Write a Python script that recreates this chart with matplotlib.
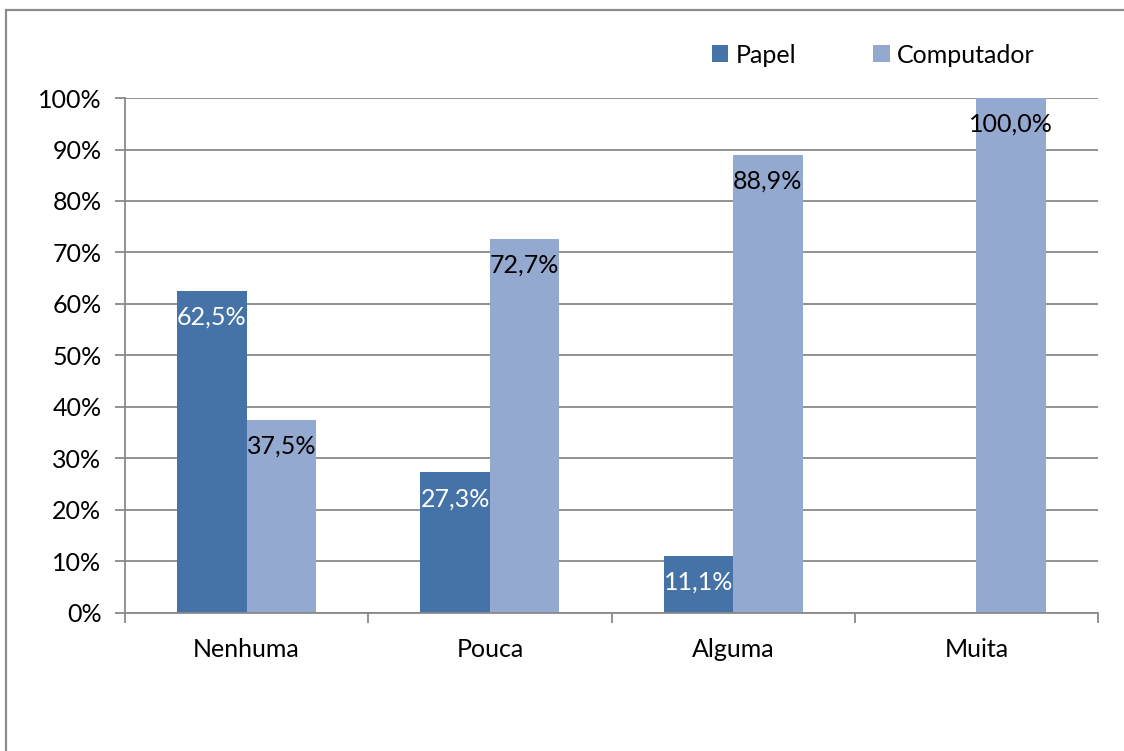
import matplotlib.pyplot as plt
import numpy as np
from matplotlib.patches import Rectangle
from matplotlib.ticker import FuncFormatter, MultipleLocator

plt.rcParams['font.family'] = ['Lato', 'DejaVu Sans']

categorias = ["Nenhuma", "Pouca", "Alguma", "Muita"]
papel = [62.5, 27.3, 11.1, 0.0]
computador = [37.5, 72.7, 88.9, 100.0]
series = ["Papel", "Computador"]

cor_papel = "#4572A7"
cor_comp = "#94A9D0"
cor_grade = "#898989"
fs = 18

fig = plt.figure(figsize=(11.24, 7.51), dpi=100)
ax = fig.add_axes([0.1112, 0.1838, 0.8657, 0.6857])

# moldura exterior (só esquerda e topo visíveis)
fig.patches.append(Rectangle((5.5 / 1124, -0.1), 1.2, 1 - 9.5 / 751 + 0.1,
                             transform=fig.transFigure, fill=False,
                             edgecolor="#8c8c8c", linewidth=1.6))

x = np.arange(len(categorias))
w = 0.286
b1 = ax.bar(x - w / 2, papel, w, color=cor_papel, label=series[0], zorder=2)
b2 = ax.bar(x + w / 2, computador, w, color=cor_comp, label=series[1], zorder=2)

def rotulo(v):
    return f"{v:.1f}".replace(".", ",") + "%"

for barras, vals, cor in ((b1, papel, "white"), (b2, computador, "black")):
    for b, v in zip(barras, vals):
        if v <= 0:
            continue
        ax.annotate(rotulo(v), (b.get_x() + b.get_width() / 2, v),
                    xytext=(0, -19), textcoords="offset points",
                    ha="center", va="center", color=cor, fontsize=fs, zorder=3)

ax.set_xlim(-0.5, len(categorias) - 0.5)
ax.set_ylim(0, 100)
ax.yaxis.set_major_locator(MultipleLocator(10))
ax.yaxis.set_major_formatter(FuncFormatter(lambda v, p: f"{v:.0f}%"))
ax.grid(axis="y", color=cor_grade, linewidth=1.3, zorder=0)
ax.set_axisbelow(True)

ax.set_xticks(x)
ax.set_xticklabels(categorias)
ax.set_xticks(np.arange(len(categorias) + 1) - 0.5, minor=True)
ax.tick_params(axis="x", which="major", length=0, pad=18, labelsize=fs)
ax.tick_params(axis="x", which="minor", length=7, width=1.3, color=cor_grade)
ax.tick_params(axis="y", length=7, width=1.3, color=cor_grade, labelsize=fs, pad=10)

for s in ("top", "right"):
    ax.spines[s].set_visible(False)
for s in ("left", "bottom"):
    ax.spines[s].set_color(cor_grade)
    ax.spines[s].set_linewidth(1.3)

ax.legend(loc="center right", bbox_to_anchor=(0.935, 1.0835), ncol=2, frameon=False,
          fontsize=fs, handlelength=0.65, handleheight=0.65, handletextpad=0.3,
          columnspacing=3.1, borderaxespad=0, borderpad=0)

fig.savefig("out.png", dpi=100)
